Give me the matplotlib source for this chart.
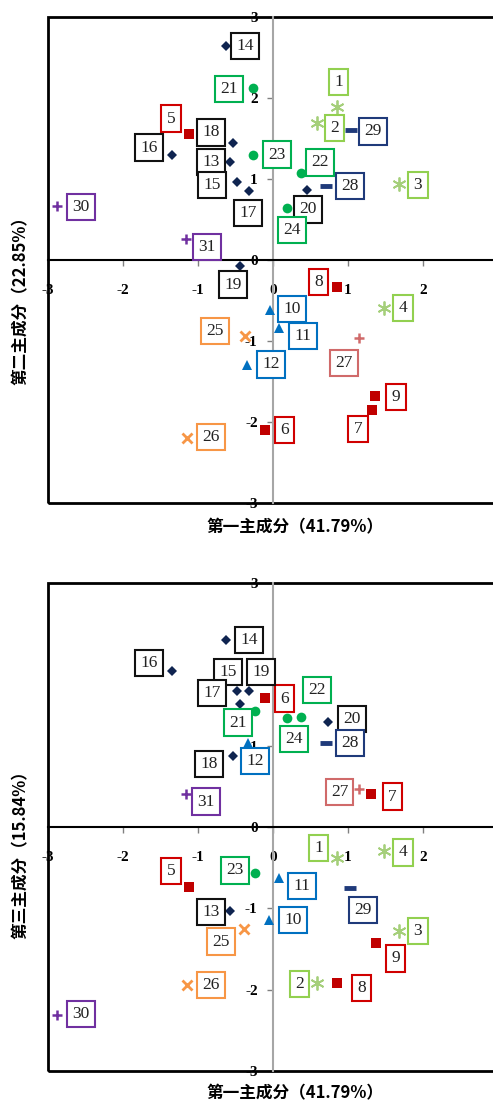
import matplotlib
matplotlib.use("Agg")
import matplotlib.pyplot as plt
from matplotlib.patches import Rectangle

plt.rcParams['font.family'] = ['Noto Sans CJK SC', 'DejaVu Sans']

# ==========================================================
# DATA
# ==========================================================

samples = [str(i) for i in range(1, 32)]

# group of each sample (1..31)
group = ['A'] * 4 + ['B'] * 5 + ['C'] * 3 + ['D'] * 8 + ['E'] * 4 + \
        ['F'] * 2 + ['G'] + ['H'] * 2 + ['I'] * 2

# upper plot: PC1 vs PC2
pc1_a = [0.85, 0.59, 1.68, 1.48, -1.12, -0.11, 1.32, 0.85, 1.36, -0.04,
         0.08, -0.35, -0.57, -0.63, -0.48, -1.35, -0.32, -0.53, -0.44, 0.45,
         -0.27, 0.37, -0.27, 0.19, -0.37, -1.15, 1.15, 0.71, 1.04, -2.88,
         -1.16]
pc2 = [1.89, 1.69, 0.94, -0.59, 1.56, -2.10, -1.85, -0.33, -1.68, -0.62,
       -0.84, -1.30, 1.21, 2.64, 0.96, 1.30, 0.85, 1.44, -0.07, 0.86,
       2.12, 1.07, 1.30, 0.64, -0.94, -2.20, -0.96, 0.91, 1.60, 0.67,
       0.26]

# lower plot: PC1 vs PC3
pc1_b = [0.85, 0.59, 1.68, 1.48, -1.12, -0.11, 1.31, 0.85, 1.37, -0.05,
         0.08, -0.33, -0.57, -0.63, -0.48, -1.35, -0.32, -0.53, -0.44, 0.73,
         -0.24, 0.37, -0.24, 0.19, -0.39, -1.15, 1.14, 0.71, 1.03, -2.88,
         -1.16]
pc3 = [-0.38, -1.92, -1.28, -0.30, -0.74, 1.59, 0.41, -1.92, -1.43, -1.14,
       -0.63, 1.03, -1.03, 2.30, 1.67, 1.92, 1.67, 0.87, 1.51, 1.29,
       1.43, 1.35, -0.57, 1.34, -1.25, -1.94, 0.47, 1.03, -0.75, -2.31,
       0.41]

axis_ticks = [-3, -2, -1, 0, 1, 2, 3]
x_label = "第一主成分（41.79%）"
y_label_a = "第二主成分（22.85%）"
y_label_b = "第三主成分（15.84%）"

# ==========================================================
# STYLES
# ==========================================================

styles = {
    'A': dict(marker=(6, 2, 0), color='#A5CF7A', box='#92D050', ms=10, mew=1.3),
    'B': dict(marker='s', color='#C00000', box='#D00000', ms=7, mew=0),
    'C': dict(marker='^', color='#0070C0', box='#0070C0', ms=7, mew=0),
    'D': dict(marker='D', color='#0F2450', box='#111111', ms=5, mew=0),
    'E': dict(marker='o', color='#00B050', box='#00B050', ms=7, mew=0),
    'F': dict(marker='x', color='#F79646', box='#F79646', ms=7, mew=2),
    'G': dict(marker='+', color='#D06A6A', box='#D06A6A', ms=7, mew=1.8),
    'H': dict(marker='_', color='#1F3A7A', box='#1F3A7A', ms=9, mew=3.5),
    'I': dict(marker='+', color='#7030A0', box='#7030A0', ms=7, mew=1.8),
}

# label box offsets in pixels (dx, dy) from each point
off_a = [(2, 25), (17, -5), (19, -1), (19, 0), (-18, 15), (20, 0), (-14, -19),
         (-18, 5), (21, -1), (22, 1), (24, -8), (24, 1), (-19, 0), (19, 0),
         (-25, -3), (-23, 7), (-1, -22), (-22, 11), (-7, -19), (1, -19),
         (-24, -1), (19, 11), (24, 0), (5, -22), (-30, 5), (24, 1), (-15, -25),
         (24, 0), (22, -1), (24, -1), (21, -8)]
off_b = [(-18, 10), (-18, -1), (19, 0), (19, -1), (-18, 16), (20, -1), (21, -3),
         (25, -5), (20, -15), (24, 0), (23, -8), (7, -18), (-19, -1), (23, 0),
         (-9, 19), (-23, 8), (-37, -2), (-24, -8), (21, 32), (24, 3),
         (-17, -12), (16, 27), (-20, 3), (7, -21), (-23, -13), (24, 0),
         (-19, -3), (24, 0), (13, -22), (24, 1), (20, -8)]

W, H = 493, 1102


def panel(ax, xs, ys, offsets):
    ax.set_xlim(-3, 3)
    ax.set_ylim(-3, 3)

    for i, s in enumerate(samples):
        st = styles[group[i]]
        ax.plot(xs[i], ys[i], linestyle='none', marker=st['marker'],
                ms=st['ms'], mew=st['mew'], color=st['color'], zorder=3)
        ax.annotate(s, (xs[i], ys[i]), xytext=offsets[i],
                    textcoords='offset pixels', ha='center', va='center',
                    fontsize=12.5, family='Liberation Serif', color='#222222',
                    bbox=dict(boxstyle='square,pad=0.3', fc='white',
                              ec=st['box'], lw=1.5),
                    zorder=4)

    # axes crossing at zero
    ax.spines['left'].set_position(('data', 0))
    ax.spines['left'].set_color('#A6A6A6')
    ax.spines['left'].set_linewidth(1.5)
    ax.spines['bottom'].set_position(('data', 0))
    ax.spines['bottom'].set_color('black')
    ax.spines['bottom'].set_linewidth(1.5)
    ax.spines['right'].set_visible(False)
    ax.spines['top'].set_visible(False)

    ax.set_xticks(axis_ticks)
    ax.set_yticks(axis_ticks)
    ax.set_xticklabels([str(t) for t in axis_ticks], fontweight='bold',
                       family='Liberation Serif', fontsize=11)
    ax.set_yticklabels([str(t) for t in axis_ticks], fontweight='bold',
                       family='Liberation Serif', fontsize=11)
    ax.tick_params(axis='x', direction='out', length=4, width=1,
                   color='#808080', pad=13)
    ax.tick_params(axis='y', direction='out', length=4, width=1,
                   color='#808080', pad=7)

    # outer frame
    ax.add_patch(Rectangle((0, 0), 1, 1, transform=ax.transAxes, fill=False,
                           ec='black', lw=2, clip_on=False, zorder=2.5))


fig = plt.figure(figsize=(W / 100, H / 100), dpi=100)

ax1 = fig.add_axes([48 / W, 1 - 503 / H, 450 / W, 486 / H])
panel(ax1, pc1_a, pc2, off_a)

ax2 = fig.add_axes([48 / W, 1 - 1071 / H, 450 / W, 488 / H])
panel(ax2, pc1_b, pc3, off_b)

fig.text(295 / W, 1 - 527 / H, x_label, ha='center', va='center',
         fontsize=12, fontweight='bold')
fig.text(21 / W, 1 - 296 / H, y_label_a, ha='center', va='center',
         rotation=90, fontsize=12, fontweight='bold')
fig.text(295 / W, 1 - 1093 / H, x_label, ha='center', va='center',
         fontsize=12, fontweight='bold')
fig.text(21 / W, 1 - 851 / H, y_label_b, ha='center', va='center',
         rotation=90, fontsize=12, fontweight='bold')

fig.savefig("out.png", dpi=100)
